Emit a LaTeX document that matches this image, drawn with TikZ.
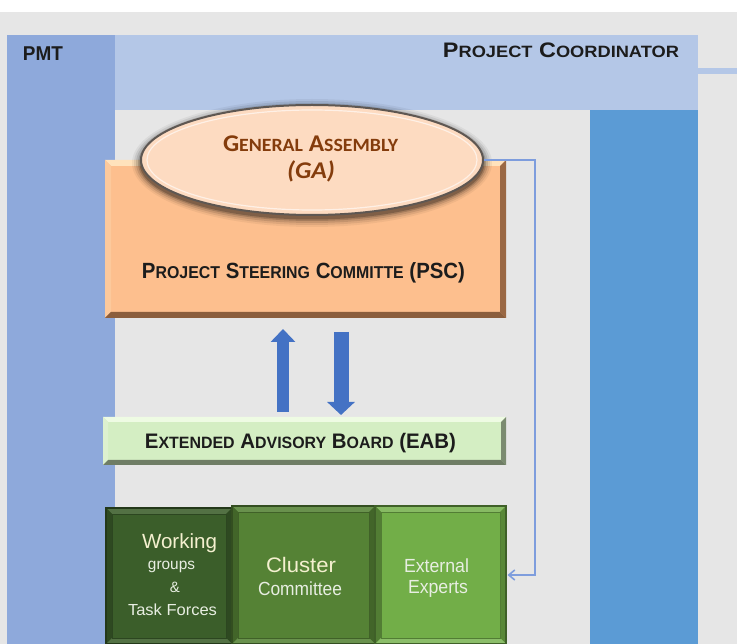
\documentclass[tikz,border=0pt]{standalone}
\usepackage{fontspec}
\setmainfont{Liberation Sans}
\newfontfamily\carlito{Carlito}
\usepackage{graphicx}
\usetikzlibrary{arrows.meta,calc,shapes.geometric}

\definecolor{canvasgray}{HTML}{E6E6E6}
\definecolor{bandblue}{HTML}{B4C7E7}
\definecolor{pmtblue}{HTML}{8EA9DB}
\definecolor{colblue}{HTML}{5B9BD5}
\definecolor{pscfill}{HTML}{FDBF8E}
\definecolor{psclight}{HTML}{FFE2BC}
\definecolor{pscleft}{HTML}{FCC99C}
\definecolor{pscdark}{HTML}{9A6844}
\definecolor{gafill}{HTML}{FDDBC1}
\definecolor{gaedge}{HTML}{5E5752}
\definecolor{gatext}{HTML}{843C0C}
\definecolor{eabfill}{HTML}{D4EEC3}
\definecolor{eablight}{HTML}{EEFBE3}
\definecolor{eabdark}{HTML}{7B8B70}
\definecolor{wgfill}{HTML}{3B5E2A}
\definecolor{ccfill}{HTML}{558235}
\definecolor{eefill}{HTML}{72AE48}
\definecolor{arrowblue}{HTML}{4472C4}
\definecolor{linkblue}{HTML}{7E9DDD}
\definecolor{inkblack}{HTML}{1C1C1C}
\definecolor{paleyellow}{HTML}{F4F0CF}
\definecolor{paletext}{HTML}{E8EEE2}

% small capitals built from scaled upper-case letters
\newcommand\lowc[1]{\scalebox{0.78}{#1}}

% bevelled edge strips of a rectangular node: name, size, top, left, right, bottom
\newcommand\bevelframe[6]{%
  \fill[#3] (#1.north west) -- (#1.north east) -- ($(#1.north east)+(-#2,#2)$) -- ($(#1.north west)+(#2,#2)$) -- cycle;
  \fill[#4] (#1.north west) -- (#1.south west) -- ($(#1.south west)+(#2,-#2)$) -- ($(#1.north west)+(#2,#2)$) -- cycle;
  \fill[#5] (#1.north east) -- (#1.south east) -- ($(#1.south east)+(-#2,-#2)$) -- ($(#1.north east)+(-#2,#2)$) -- cycle;
  \fill[#6] (#1.south west) -- (#1.south east) -- ($(#1.south east)+(-#2,-#2)$) -- ($(#1.south west)+(#2,-#2)$) -- cycle;}

\begin{document}
\begin{tikzpicture}[x=1pt,y=-1pt,
  region/.style={inner sep=0pt, outer sep=0pt, anchor=north west, draw=none},
  boxnode/.style={inner sep=0pt, outer sep=0pt, anchor=north west},
  titletext/.style={anchor=base, inner sep=0pt, text=inkblack,
                    font=\bfseries\fontsize{21pt}{21pt}\selectfont},
  boxtext/.style={anchor=base, inner sep=0pt, text=paletext},
  blockarrow/.style={draw=arrowblue, line cap=butt},
  link/.style={draw=linkblue, line width=1.6pt,
               -{Straight Barb[length=6pt,width=10pt]}}]

\useasboundingbox (0,0) rectangle (737,644);
\fill[white] (0,0) rectangle (737,644);
\fill[canvasgray] (0,12) rectangle (737,644);

% coordinator band, management column and side column
\node[region, fill=bandblue, minimum width=691pt, minimum height=75pt] (band) at (7,35) {};
\fill[bandblue] (698,68) rectangle (737,74);
\node[region, fill=pmtblue, minimum width=108pt, minimum height=609pt] (pmt) at (7,35) {};
\node[region, fill=colblue, minimum width=108pt, minimum height=534pt] (side) at (590,110) {};

\node[titletext, font=\bfseries\fontsize{20pt}{20pt}\selectfont] (pmtlabel) at (43,61)
  {\resizebox{40pt}{\height}{PMT}};
\node[titletext] (pclabel) at (561,58)
  {\resizebox{236pt}{\height}{P\lowc{ROJECT} C\lowc{OORDINATOR}}};

% steering committee box
\node[boxnode, fill=pscfill, minimum width=401pt, minimum height=158pt] (PSC) at (105,160) {};
\bevelframe{PSC}{6}{psclight}{pscleft}{pscdark}{pscdark!90!black}
\node[titletext, font=\bfseries\fontsize{22pt}{22pt}\selectfont] (psclabel) at (303.5,279)
  {\resizebox{323pt}{\height}{P\lowc{ROJECT} S\lowc{TEERING} C\lowc{OMMITTE} (PSC)}};

% general assembly ellipse with its soft shadow
\coordinate (gac) at (312,160);
\foreach \g/\o in {9/0.05,7/0.08,5/0.11,3/0.16,1.5/0.22}
  \fill[black, opacity=\o] ($(gac)+(0,3)$) ellipse [x radius=171pt+\g pt, y radius=55pt+\g pt];
\node[ellipse, inner sep=0pt, minimum width=342pt, minimum height=110pt,
      fill=gafill, draw=gaedge, line width=2pt] (GA) at (gac) {};
\draw[white, opacity=0.6, line width=1.2pt] (gac) ellipse [x radius=165pt, y radius=50pt];
\node[titletext, text=gatext, font=\carlito\bfseries\fontsize{24pt}{24pt}\selectfont] (galabel) at (310.5,152)
  {\resizebox{175pt}{\height}{G\lowc{ENERAL} A\lowc{SSEMBLY}}};
\node[titletext, text=gatext, font=\carlito\bfseries\itshape\fontsize{24pt}{24pt}\selectfont] (gaabbr) at (311,179)
  {\resizebox{48pt}{\height}{(GA)}};

% extended advisory board
\node[boxnode, fill=eabfill, minimum width=403pt, minimum height=48pt] (EAB) at (103,417) {};
\bevelframe{EAB}{5}{eablight}{eabfill!80!white}{eabdark}{eabdark!90!black}
\node[titletext] (eablabel) at (300.5,449)
  {\resizebox{311pt}{\height}{E\lowc{XTENDED} A\lowc{DVISORY} B\lowc{OARD} (EAB)}};

% two-way exchange between PSC and EAB
\coordinate (upx) at (283,0);
\coordinate (dnx) at (341,0);
\draw[blockarrow, line width=12pt, -{Triangle[length=13pt,width=24pt]},
      shorten <=5pt, shorten >=11pt] (EAB.north -| upx) -- (PSC.south -| upx);
\draw[blockarrow, line width=15pt, -{Triangle[length=13pt,width=27pt]},
      shorten <=14pt, shorten >=2pt] (PSC.south -| dnx) -- (EAB.north -| dnx);

% operational bodies
\node[boxnode, fill=wgfill, minimum width=126pt, minimum height=136pt] (WG) at (106,508) {};
\bevelframe{WG}{6}{wgfill!88!white}{wgfill!78!black}{wgfill!78!black}{wgfill!88!white}
\draw[wgfill!60!black, line width=1.2pt] (WG.north west) rectangle (WG.south east);
\draw[wgfill!75!black, line width=0.6pt] ($(WG.north west)+(6,6)$) rectangle ($(WG.south east)+(-6,-6)$);

\node[boxnode, fill=ccfill, minimum width=143pt, minimum height=138pt] (CC) at (232,506) {};
\bevelframe{CC}{6}{ccfill!88!white}{ccfill!78!black}{ccfill!78!black}{ccfill!88!white}
\draw[ccfill!60!black, line width=1.2pt] (CC.north west) rectangle (CC.south east);
\draw[ccfill!75!black, line width=0.6pt] ($(CC.north west)+(6,6)$) rectangle ($(CC.south east)+(-6,-6)$);

\node[boxnode, fill=eefill, minimum width=131pt, minimum height=138pt] (EE) at (375,506) {};
\bevelframe{EE}{6}{eefill!85!white}{eefill!72!black}{eefill!78!black}{eefill!82!white}
\draw[eefill!55!black, line width=1.2pt] (EE.north west) rectangle (EE.south east);
\draw[eefill!72!black, line width=0.6pt] ($(EE.north west)+(6,6)$) rectangle ($(EE.south east)+(-6,-6)$);

\node[boxtext, text=paleyellow, font=\fontsize{20.5pt}{20.5pt}\selectfont] (wg1) at (179.5,548)
  {\resizebox{75pt}{\height}{Working}};
\node[boxtext, font=\fontsize{15.5pt}{15.5pt}\selectfont] (wg2) at (171.5,569)
  {\resizebox{47pt}{\height}{groups}};
\node[boxtext, font=\fontsize{15pt}{15pt}\selectfont] (wg3) at (175,592) {\&};
\node[boxtext, font=\fontsize{16pt}{16pt}\selectfont] (wg4) at (172.5,615)
  {\resizebox{89pt}{\height}{Task Forces}};

\node[boxtext, text=paleyellow, font=\fontsize{21pt}{21pt}\selectfont] (cc1) at (301,572)
  {\resizebox{70pt}{\height}{Cluster}};
\node[boxtext, font=\fontsize{19pt}{19pt}\selectfont] (cc2) at (300,595)
  {\resizebox{84pt}{\height}{Committee}};

\node[boxtext, font=\fontsize{19pt}{19pt}\selectfont] (ee1) at (436.5,572)
  {\resizebox{65pt}{\height}{External}};
\node[boxtext, font=\fontsize{19pt}{19pt}\selectfont] (ee2) at (438,593)
  {\resizebox{60pt}{\height}{Experts}};

% feedback line from the assembly to the external experts
\coordinate (turn) at (535,0);
\draw[link, shorten >=1.5pt] (GA.east) -- (GA.east -| turn) |- (EE.east);

\end{tikzpicture}
\end{document}
